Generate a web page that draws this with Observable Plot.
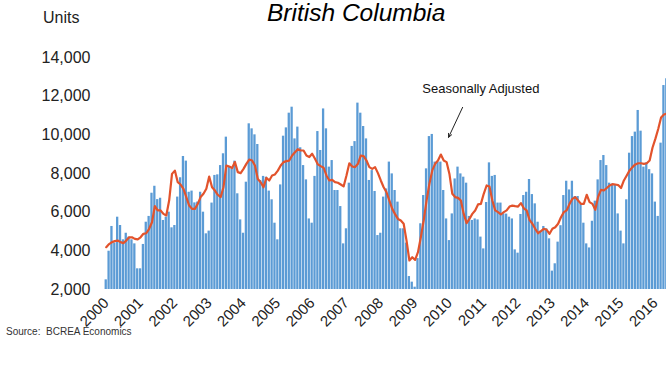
<!DOCTYPE html>
<html><head><meta charset="utf-8">
<script src="https://cdn.jsdelivr.net/npm/d3@7"></script>
<script src="https://cdn.jsdelivr.net/npm/@observablehq/plot@0.6"></script>
<style>
body{margin:0;background:#fff;overflow:hidden}
#wrap{position:relative;width:666px;height:365px;overflow:hidden;font-family:"Liberation Sans",Arial,sans-serif;background:#fff}
.t{position:absolute;white-space:nowrap;color:#000;line-height:1}
#chart{position:absolute;left:0;top:0}
</style></head><body><div id="wrap">
<div id="chart"></div>
<div class="t" style="left:267px;top:1px;font-size:24.5px;font-style:italic">British Columbia</div>
<div class="t" style="left:43px;top:10px;font-size:16px;color:#222">Units</div>
<div class="t" style="left:6px;top:327px;font-size:10px;color:#333">Source:&nbsp; BCREA Economics</div>
</div>
<script>
const years = ["2000","2001","2002","2003","2004","2005","2006","2007","2008","2009","2010","2011","2012","2013","2014","2015","2016"];
const yTicks = [2000, 4000, 6000, 8000, 10000, 12000, 14000];
// Monthly unit sales, Jan 2000 onward
const sales = [
  2500, 3980, 5260, 4400, 5740, 5310, 4570, 4910, 4710, 4570, 4360, 3070,
  3070, 4330, 5480, 5780, 6980, 7340, 6650, 6720, 5570, 5740, 6000, 5190,
  5310, 6780, 7780, 8880, 8640, 7030, 7090, 6480, 6520, 7030, 6000, 4880,
  5020, 6470, 7900, 7930, 8410, 9020, 9880, 8330, 8240, 8640, 6950, 5600,
  4910, 7550, 10570, 10310, 10000, 9500, 7640, 7850, 7810, 7090, 6640, 5430,
  4570, 7410, 9930, 10360, 11120, 11430, 9790, 10400, 9330, 8410, 7670, 5650,
  5430, 7850, 10170, 9190, 11340, 10310, 8330, 8670, 7120, 7120, 6290, 4360,
  5140, 7500, 9400, 9650, 11640, 11120, 10430, 9790, 7640, 8150, 7070, 4790,
  4910, 6780, 7200, 8590, 7980, 7120, 6520, 5140, 5140, 4400, 2670, 2380,
  2120, 3600, 5400, 6860, 8240, 9910, 10020, 8590, 8590, 8590, 7120, 5650,
  4530, 5910, 7720, 8330, 7980, 7810, 7500, 5780, 5570, 5650, 5600, 4710,
  4100, 6500, 8550, 7850, 7900, 6470, 6470, 5910, 5900, 5740, 5650, 4050,
  3880, 5880, 6860, 7030, 7690, 6910, 6430, 5480, 5020, 5260, 5140, 4620,
  2950, 3330, 4450, 5300, 6860, 7600, 7150, 7600, 6810, 6810, 6430, 5430,
  4360, 4150, 5530, 6570, 7670, 8670, 8930, 8410, 7500, 7450, 7430, 5910,
  5020, 4360, 6640, 9050, 9910, 10140, 11260, 10190, 8330, 8550, 8200, 7980,
  6520, 5780, 9570, 12550, 12900
];
const seasonallyAdjusted = [
  4190, 4350, 4450, 4500, 4530, 4450, 4400, 4530, 4700, 4700, 4620, 4590,
  4700, 4880, 4910, 5140, 5480, 6310, 6090, 6090, 5910, 5830, 6600, 7980,
  8150, 7550, 7430, 7210, 6780, 6340, 6170, 6170, 6430, 6780, 6950, 7210,
  7840, 7290, 7120, 6900, 6780, 7290, 8410, 8360, 8280, 8590, 8070, 8020,
  8240, 8500, 8720, 8670, 8410, 7720, 7550, 7290, 7780, 7640, 7900, 7950,
  8150, 8410, 8590, 8640, 8670, 8930, 9100, 9260, 9190, 9190, 8930, 8850,
  9020, 8760, 8470, 8380, 8300, 7900, 7640, 7670, 7550, 7520, 7430, 7330,
  7900, 8530, 8360, 8330, 8500, 8930, 8900, 8670, 8330, 8240, 8330, 8020,
  7640, 7290, 7030, 6600, 6170, 5900, 5650, 5570, 5400, 4530, 3500, 3670,
  3530, 3930, 4700, 5570, 6600, 7470, 8160, 8500, 8670, 8980, 8670, 8590,
  7980, 6950, 6780, 6740, 6600, 5910, 5430, 5650, 5910, 6090, 6400, 6430,
  6950, 7380, 7330, 6600, 6090, 6000, 5880, 6000, 6090, 6290, 6340, 6310,
  6290, 6470, 6200, 6090, 5600, 5400, 5140, 4910, 5020, 5140, 5090, 4880,
  5140, 5220, 5400, 5740, 6000, 6090, 6430, 6690, 6780, 6600, 6430, 6430,
  6900, 6520, 6430, 6120, 6800, 7150, 7120, 7250, 7380, 7450, 7430, 7400,
  7250, 7640, 7900, 8160, 8330, 8470, 8530, 8530, 8500, 8530, 8670, 9330,
  9790, 10300, 10900, 11050, 11100
];

const data = sales.map((v, i) => ({i, v, sa: seasonallyAdjusted[i]}));
const n = data.length;

const chart = Plot.plot({
  width: 666,
  height: 365,
  marginTop: 57,
  marginBottom: 76,
  marginLeft: 104,
  marginRight: 0,
  style: {fontFamily: "Liberation Sans, Arial, sans-serif", background: "transparent", color: "#222"},
  x: {domain: [-0.5, n - 0.5], range: [104.3, 104.3 + n * 2.86]},
  y: {domain: [2000, 14000]},
  marks: [
    Plot.rectY(data, {x1: d => d.i - 0.4, x2: d => d.i + 0.4, y1: 2000, y2: "v", fill: "#5B9BD5"}),
    Plot.line(data, {x: "i", y: "sa", stroke: "#E2532C", strokeWidth: 2.2, curve: "linear"}),
    Plot.axisY({ticks: yTicks, tickFormat: d3.format(","), tickSize: 0, tickPadding: 14, fontSize: 16, label: null}),
    Plot.axisX({ticks: years.map((_, k) => k * 12), tickFormat: t => years[t / 12], tickRotate: -45, textAnchor: "end", lineAnchor: "middle", tickSize: 0, tickPadding: 11, dx: 0, fontSize: 15, label: null}),
    Plot.text(["Seasonally Adjusted"], {x: 131, y: 12400, text: d => d, fontSize: 13, fill: "#111"}),
    Plot.arrow([0], {x1: 124.6, y1: 11420, x2: 119.7, y2: 9870, stroke: "#222", strokeWidth: 1, headLength: 6, headAngle: 50})
  ]
});
document.getElementById("chart").appendChild(chart);
</script>
</body></html>
